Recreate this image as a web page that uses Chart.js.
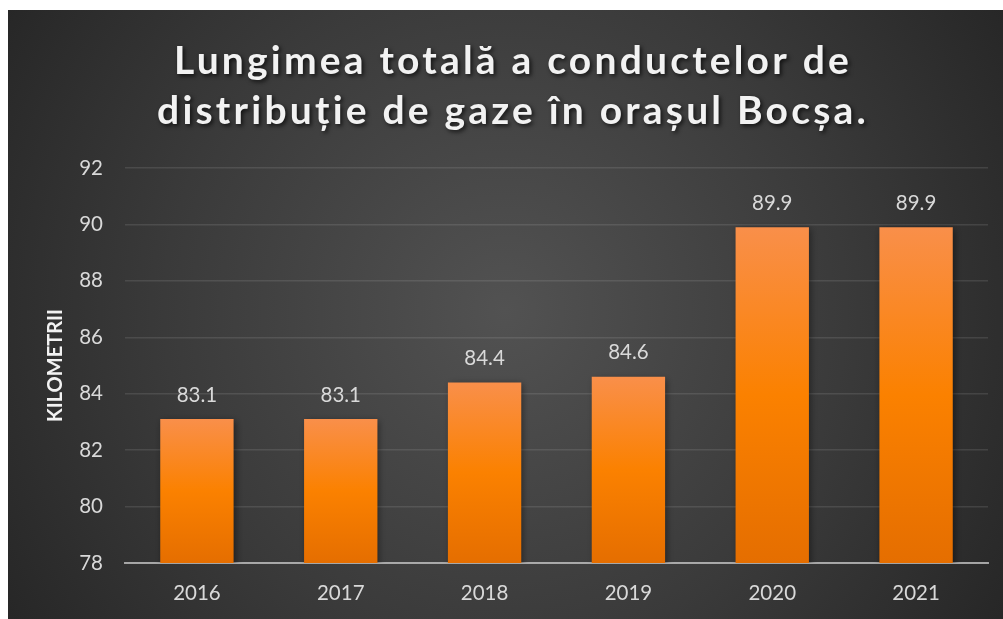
<!DOCTYPE html>
<html>
<head>
<meta charset="utf-8">
<script src="https://cdn.jsdelivr.net/npm/chart.js@4"></script>
<style>
  html, body { margin: 0; padding: 0; background: #fff; }
  #wrap { width: 1003px; height: 619px; }
</style>
</head>
<body>
<div id="wrap"><canvas id="chart" width="1003" height="619"></canvas></div>
<script>
// data
const years = ['2016', '2017', '2018', '2019', '2020', '2021'];
const km = [83.1, 83.1, 84.4, 84.6, 89.9, 89.9];
const titleLines = ['Lungimea totală a conductelor de', 'distribuție de gaze în orașul Bocșa.'];
const yTitle = 'KILOMETRII';
const yMin = 78, yMax = 92, yStep = 2;

const FONT = 'Lato, "Open Sans", sans-serif';
const TXT = '#d9d9d9';

// dark panel behind everything
const panelPlugin = {
  id: 'panel',
  beforeDraw(chart) {
    const ctx = chart.ctx;
    ctx.save();
    ctx.fillStyle = '#ffffff';
    ctx.fillRect(0, 0, chart.width, chart.height);
    const g = ctx.createRadialGradient(505, 310, 0, 505, 310, 620);
    g.addColorStop(0, '#525252');
    g.addColorStop(0.55, '#3a3a3a');
    g.addColorStop(1, '#242424');
    ctx.fillStyle = g;
    ctx.fillRect(8, 10, chart.width - 8, chart.height - 10);
    ctx.restore();
  }
};

// two-line title with letter spacing and a soft shadow
const titlePlugin = {
  id: 'bigTitle',
  afterDraw(chart) {
    const ctx = chart.ctx;
    ctx.save();
    ctx.font = 'bold 39px ' + FONT;
    ctx.letterSpacing = '3.2px';
    ctx.textAlign = 'center';
    ctx.textBaseline = 'alphabetic';
    ctx.fillStyle = '#f2f2f2';
    ctx.shadowColor = 'rgba(0,0,0,0.7)';
    ctx.shadowBlur = 4;
    ctx.shadowOffsetX = 2;
    ctx.shadowOffsetY = 2;
    ctx.fillText(titleLines[0], 513, 74);
    ctx.fillText(titleLines[1], 513, 124);
    ctx.restore();
  }
};

// bar shadows
const shadowPlugin = {
  id: 'barShadow',
  beforeDatasetDraw(chart) {
    const ctx = chart.ctx;
    ctx.save();
    ctx.shadowColor = 'rgba(0,0,0,0.45)';
    ctx.shadowBlur = 7;
    ctx.shadowOffsetX = 2;
    ctx.shadowOffsetY = 2;
  },
  afterDatasetDraw(chart) {
    chart.ctx.restore();
  }
};

// value labels above the bars
const valuePlugin = {
  id: 'values',
  afterDatasetsDraw(chart) {
    const ctx = chart.ctx;
    const meta = chart.getDatasetMeta(0);
    ctx.save();
    ctx.font = '20.5px ' + FONT;
    ctx.fillStyle = TXT;
    ctx.textAlign = 'center';
    ctx.textBaseline = 'middle';
    meta.data.forEach((bar, i) => {
      ctx.fillText(km[i].toFixed(1), bar.x, bar.y - 24);
    });
    ctx.restore();
  }
};

function barFill(c) {
  const chart = c.chart;
  if (!chart.chartArea || c.raw === undefined) return '#f47c00';
  const y = chart.scales.y;
  const top = y.getPixelForValue(c.raw);
  const bot = y.getPixelForValue(yMin);
  const g = chart.ctx.createLinearGradient(0, top, 0, bot);
  g.addColorStop(0, '#f98f4a');
  g.addColorStop(0.5, '#fb8100');
  g.addColorStop(1, '#e56e00');
  return g;
}

new Chart(document.getElementById('chart'), {
  type: 'bar',
  data: {
    labels: years,
    datasets: [{
      data: km,
      backgroundColor: barFill,
      borderWidth: 0,
      barPercentage: 0.51,
      categoryPercentage: 1
    }]
  },
  options: {
    responsive: false,
    animation: false,
    devicePixelRatio: 1,
    layout: { padding: { top: 168, right: 15, left: 0, bottom: 0 } },
    plugins: {
      legend: { display: false },
      tooltip: { enabled: false }
    },
    scales: {
      x: {
        z: 1,
        grid: { display: false, drawTicks: false },
        border: { display: true, color: 'rgba(200,200,200,0.75)', width: 2 },
        ticks: { color: TXT, font: { family: FONT, size: 20.5 }, padding: 18 },
        afterFit(s) { s.height = 56; }
      },
      y: {
        min: yMin,
        max: yMax,
        ticks: { stepSize: yStep, color: TXT, font: { family: FONT, size: 20.5 }, padding: 22 },
        grid: { color: 'rgba(220,220,220,0.13)', lineWidth: 1.5, drawTicks: false },
        border: { display: false },
        title: {
          display: true,
          text: yTitle,
          color: '#f2f2f2',
          font: { family: FONT, size: 20, weight: 'bold' },
          padding: { top: 44, bottom: 0 }
        },
        afterFit(s) { s.width = 125; }
      }
    }
  },
  plugins: [panelPlugin, shadowPlugin, valuePlugin, titlePlugin]
});
</script>
</body>
</html>
